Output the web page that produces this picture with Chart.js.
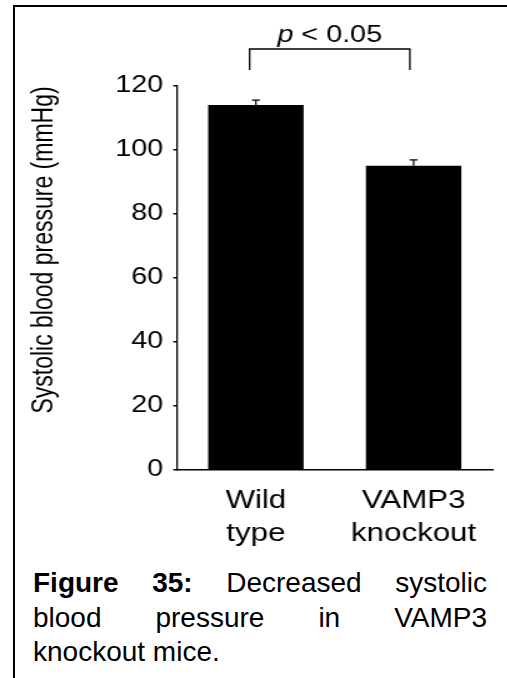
<!DOCTYPE html>
<html>
<head>
<meta charset="utf-8">
<script src="https://cdn.jsdelivr.net/npm/chart.js@4.4.0/dist/chart.umd.min.js"></script>
<style>
    html, body { margin: 0; padding: 0; background: #fff; overflow: hidden; }
    #frame {
        position: absolute; left: 13px; top: 5px; width: 494px; height: 673px;
        border-left: 2px solid #000; border-top: 2px solid #000;
    }
    /* the figure image in the source is stretched sideways, so the chart is drawn narrow and scaled */
    #wrap {
        position: absolute; left: 0; top: 0; width: 406px; height: 560px;
        transform: scaleX(1.25); transform-origin: 0 0;
    }
    #caption {
        position: absolute; left: 33px; top: 566px; width: 454px;
        font-family: 'Liberation Sans', Arial, sans-serif; font-size: 28px; line-height: 34.5px; color: #000;
    }
    #caption div { text-align: justify; text-align-last: justify; white-space: nowrap; }
    #caption div.last { text-align-last: left; }
</style>
</head>
<body>
<div id="frame"></div>
<div id="wrap"><canvas id="bpChart"></canvas></div>
<div id="caption">
    <div><b>Figure 35:</b> Decreased systolic</div>
    <div>blood pressure in VAMP3</div>
    <div class="last">knockout mice.</div>
</div>
<script>
// data
const categories = [['Wild', 'type'], ['VAMP3', 'knockout']];
const meanPressure = [114.1, 95.1];
const semPressure = [1.5, 1.8];
const yTickMin = 0;
const yTickMax = 120;
const yTickStep = 20;
const yTitle = 'Systolic blood pressure (mmHg)';
const pLabel = '< 0.05';

const FONT = "'Liberation Sans', Arial, sans-serif";

// upper error whiskers with a cap
const errorBars = {
    id: 'errorBars',
    afterDatasetsDraw(chart) {
        const ctx = chart.ctx;
        const yScale = chart.scales.y;
        const meta = chart.getDatasetMeta(0);
        ctx.save();
        ctx.strokeStyle = '#000';
        ctx.lineWidth = 1.2;
        meta.data.forEach((bar, i) => {
            const yTop = yScale.getPixelForValue(meanPressure[i] + semPressure[i]);
            ctx.beginPath();
            ctx.moveTo(bar.x, bar.y);
            ctx.lineTo(bar.x, yTop);
            ctx.moveTo(bar.x - 3.2, yTop);
            ctx.lineTo(bar.x + 3.2, yTop);
            ctx.stroke();
        });
        ctx.restore();
    }
};

// significance bracket and rotated y title
const extras = {
    id: 'extras',
    afterDraw(chart) {
        const ctx = chart.ctx;
        const xScale = chart.scales.x;
        const top = chart.chartArea.top;
        const x1 = xScale.getPixelForValue(0) - 5;
        const x2 = xScale.getPixelForValue(1) - 3;
        ctx.save();
        ctx.strokeStyle = '#000';
        ctx.lineWidth = 1.3;
        ctx.beginPath();
        ctx.moveTo(x1, top - 16);
        ctx.lineTo(x1, top - 37);
        ctx.lineTo(x2, top - 37);
        ctx.lineTo(x2, top - 16);
        ctx.stroke();

        // "p < 0.05" with italic p
        ctx.fillStyle = '#000';
        ctx.textBaseline = 'alphabetic';
        ctx.font = 'italic 23px ' + FONT;
        const pW = ctx.measureText('p ').width;
        ctx.font = '23px ' + FONT;
        const restW = ctx.measureText(pLabel).width;
        const tx = (x1 + x2) / 2 - (pW + restW) / 2;
        ctx.font = 'italic 23px ' + FONT;
        ctx.fillText('p ', tx, top - 44);
        ctx.font = '23px ' + FONT;
        ctx.fillText(pLabel, tx + pW, top - 44);

        ctx.translate(36, 250);
        ctx.rotate(-Math.PI / 2);
        ctx.textAlign = 'center';
        ctx.textBaseline = 'middle';
        ctx.font = '23px ' + FONT;
        ctx.fillText(yTitle, 0, 0);
        ctx.restore();
    }
};

new Chart(document.getElementById('bpChart'), {
    type: 'bar',
    data: {
        labels: categories,
        datasets: [{
            data: meanPressure,
            backgroundColor: '#000',
            borderWidth: 0,
            barPercentage: 1,
            categoryPercentage: 0.605
        }]
    },
    options: {
        responsive: true,
        maintainAspectRatio: false,
        animation: false,
        layout: { padding: { top: 86, right: 12, left: 0, bottom: 0 } },
        plugins: { legend: { display: false }, tooltip: { enabled: false } },
        scales: {
            x: {
                afterFit(scale) { scale.height = 90; },
                grid: { display: false },
                border: { display: true, color: '#000', width: 1.5 },
                ticks: {
                    color: '#000',
                    padding: 7,
                    maxRotation: 0,
                    font: { family: FONT, size: 25, lineHeight: 1.3 }
                }
            },
            y: {
                min: yTickMin,
                max: yTickMax,
                afterFit(scale) { scale.width = 141.6; },
                grid: { display: true, drawOnChartArea: false, drawTicks: true, tickLength: 3, color: '#000', lineWidth: 1.5 },
                border: { display: true, color: '#000', width: 1.3 },
                ticks: {
                    stepSize: yTickStep,
                    color: '#000',
                    padding: 8,
                    font: { family: FONT, size: 23 }
                }
            }
        }
    },
    plugins: [errorBars, extras]
});
</script>
</body>
</html>
